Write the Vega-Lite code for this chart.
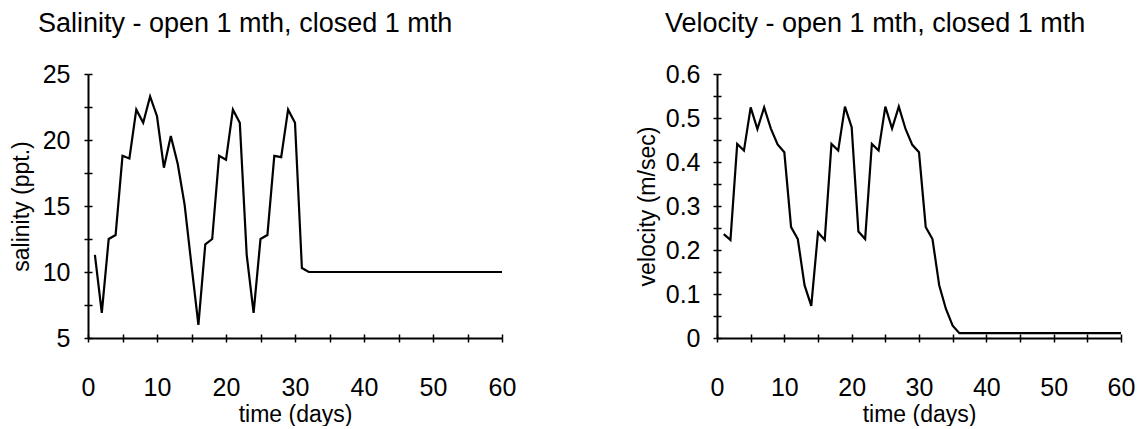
{
  "$schema": "https://vega.github.io/schema/vega-lite/v6.json",
  "background": "white",
  "padding": {"left": 9, "top": 10, "right": 0, "bottom": 0},
  "config": {
    "font": "Liberation Sans",
    "view": {"stroke": null},
    "axis": {
      "domainColor": "black",
      "domainWidth": 2,
      "tickColor": "black",
      "tickWidth": 1.5,
      "tickSize": 4,
      "labelColor": "black",
      "labelFont": "Liberation Sans",
      "labelFontSize": 25,
      "titleFont": "Liberation Sans",
      "titleFontSize": 23,
      "titleFontWeight": "normal",
      "titleColor": "black",
      "grid": true,
      "gridColor": "black",
      "gridWidth": 1.5,
      "gridOpacity": 1,
      "labelFlush": false,
      "labelOverlap": false
    },
    "axisX": {"gridDash": [4, 260], "gridDashOffset": 4},
    "axisY": {"gridDash": [4, 3000]},
    "title": {"font": "Liberation Sans", "fontSize": 27, "fontWeight": "normal", "color": "black", "anchor": "start", "frame": "group"}
  },
  "datasets": {
    "sal": [
      {"day": 1, "value": 11.3}, {"day": 2, "value": 6.9}, {"day": 3, "value": 12.5}, {"day": 4, "value": 12.8},
      {"day": 5, "value": 18.8}, {"day": 6, "value": 18.6}, {"day": 7, "value": 22.3}, {"day": 8, "value": 21.3},
      {"day": 9, "value": 23.3}, {"day": 10, "value": 21.8}, {"day": 11, "value": 17.9}, {"day": 12, "value": 20.3},
      {"day": 13, "value": 18.2}, {"day": 14, "value": 15.1}, {"day": 15, "value": 10.5}, {"day": 16, "value": 6.0},
      {"day": 17, "value": 12.1}, {"day": 18, "value": 12.5}, {"day": 19, "value": 18.8}, {"day": 20, "value": 18.5},
      {"day": 21, "value": 22.3}, {"day": 22, "value": 21.3}, {"day": 23, "value": 11.3}, {"day": 24, "value": 6.9},
      {"day": 25, "value": 12.5}, {"day": 26, "value": 12.8}, {"day": 27, "value": 18.8}, {"day": 28, "value": 18.7},
      {"day": 29, "value": 22.3}, {"day": 30, "value": 21.3}, {"day": 31, "value": 10.3}, {"day": 32, "value": 10.0},
      {"day": 33, "value": 10.0}, {"day": 34, "value": 10.0}, {"day": 35, "value": 10.0}, {"day": 36, "value": 10.0},
      {"day": 37, "value": 10.0}, {"day": 38, "value": 10.0}, {"day": 39, "value": 10.0}, {"day": 40, "value": 10.0},
      {"day": 41, "value": 10.0}, {"day": 42, "value": 10.0}, {"day": 43, "value": 10.0}, {"day": 44, "value": 10.0},
      {"day": 45, "value": 10.0}, {"day": 46, "value": 10.0}, {"day": 47, "value": 10.0}, {"day": 48, "value": 10.0},
      {"day": 49, "value": 10.0}, {"day": 50, "value": 10.0}, {"day": 51, "value": 10.0}, {"day": 52, "value": 10.0},
      {"day": 53, "value": 10.0}, {"day": 54, "value": 10.0}, {"day": 55, "value": 10.0}, {"day": 56, "value": 10.0},
      {"day": 57, "value": 10.0}, {"day": 58, "value": 10.0}, {"day": 59, "value": 10.0}, {"day": 60, "value": 10.0}
    ],
    "vel": [
      {"day": 1, "value": 0.236}, {"day": 2, "value": 0.223}, {"day": 3, "value": 0.441}, {"day": 4, "value": 0.426},
      {"day": 5, "value": 0.524}, {"day": 6, "value": 0.475}, {"day": 7, "value": 0.524}, {"day": 8, "value": 0.476},
      {"day": 9, "value": 0.44}, {"day": 10, "value": 0.422}, {"day": 11, "value": 0.252}, {"day": 12, "value": 0.225},
      {"day": 13, "value": 0.12}, {"day": 14, "value": 0.073}, {"day": 15, "value": 0.24}, {"day": 16, "value": 0.223},
      {"day": 17, "value": 0.441}, {"day": 18, "value": 0.426}, {"day": 19, "value": 0.526}, {"day": 20, "value": 0.479},
      {"day": 21, "value": 0.242}, {"day": 22, "value": 0.225}, {"day": 23, "value": 0.441}, {"day": 24, "value": 0.426},
      {"day": 25, "value": 0.526}, {"day": 26, "value": 0.476}, {"day": 27, "value": 0.526}, {"day": 28, "value": 0.475},
      {"day": 29, "value": 0.439}, {"day": 30, "value": 0.422}, {"day": 31, "value": 0.252}, {"day": 32, "value": 0.225},
      {"day": 33, "value": 0.12}, {"day": 34, "value": 0.066}, {"day": 35, "value": 0.028}, {"day": 36, "value": 0.011},
      {"day": 37, "value": 0.011}, {"day": 38, "value": 0.011}, {"day": 39, "value": 0.011}, {"day": 40, "value": 0.011},
      {"day": 41, "value": 0.011}, {"day": 42, "value": 0.011}, {"day": 43, "value": 0.011}, {"day": 44, "value": 0.011},
      {"day": 45, "value": 0.011}, {"day": 46, "value": 0.011}, {"day": 47, "value": 0.011}, {"day": 48, "value": 0.011},
      {"day": 49, "value": 0.011}, {"day": 50, "value": 0.011}, {"day": 51, "value": 0.011}, {"day": 52, "value": 0.011},
      {"day": 53, "value": 0.011}, {"day": 54, "value": 0.011}, {"day": 55, "value": 0.011}, {"day": 56, "value": 0.011},
      {"day": 57, "value": 0.011}, {"day": 58, "value": 0.011}, {"day": 59, "value": 0.011}, {"day": 60, "value": 0.011}
    ]
  },
  "bounds": "flush",
  "spacing": 215,
  "hconcat": [
    {
      "width": 414,
      "height": 264,
      "title": {"text": "Salinity - open 1 mth, closed 1 mth", "dx": -50, "offset": 24},
      "data": {"name": "sal"},
      "mark": {"type": "line", "color": "black", "strokeWidth": 2.2, "clip": false},
      "encoding": {
        "x": {"field": "day", "type": "quantitative", "scale": {"domain": [0, 60], "nice": false, "zero": false},
          "axis": {"title": "time (days)", "values": [0,5,10,15,20,25,30,35,40,45,50,55,60],
            "labelExpr": "datum.value % 10 === 0 ? datum.label : ''", "labelPadding": 33, "titlePadding": 3}},
        "y": {"field": "value", "type": "quantitative", "scale": {"domain": [5, 25], "nice": false, "zero": false},
          "axis": {"title": "salinity (ppt.)", "values": [5,7.5,10,12.5,15,17.5,20,22.5,25],
            "labelExpr": "datum.value % 5 === 0 ? datum.label : ''", "labelPadding": 14, "titleX": -67, "titleBaseline": "middle"}}
      }
    },
    {
      "width": 404,
      "height": 264,
      "title": {"text": "Velocity - open 1 mth, closed 1 mth", "dx": -52, "offset": 24},
      "data": {"name": "vel"},
      "mark": {"type": "line", "color": "black", "strokeWidth": 2.2, "clip": false},
      "encoding": {
        "x": {"field": "day", "type": "quantitative", "scale": {"domain": [0, 60], "nice": false, "zero": false},
          "axis": {"title": "time (days)", "values": [0,5,10,15,20,25,30,35,40,45,50,55,60],
            "labelExpr": "datum.value % 10 === 0 ? datum.label : ''", "labelPadding": 33, "titlePadding": 3}},
        "y": {"field": "value", "type": "quantitative", "scale": {"domain": [0, 0.6], "nice": false, "zero": false},
          "axis": {"title": "velocity (m/sec)", "values": [0,0.05,0.1,0.15,0.2,0.25,0.3,0.35,0.4,0.45,0.5,0.55,0.6],
            "labelExpr": "abs(datum.value*10 - round(datum.value*10)) < 0.001 ? (datum.value === 0 ? '0' : format(datum.value, '.1f')) : ''",
            "labelPadding": 13, "titleX": -70, "titleBaseline": "middle"}}
      }
    }
  ]
}
